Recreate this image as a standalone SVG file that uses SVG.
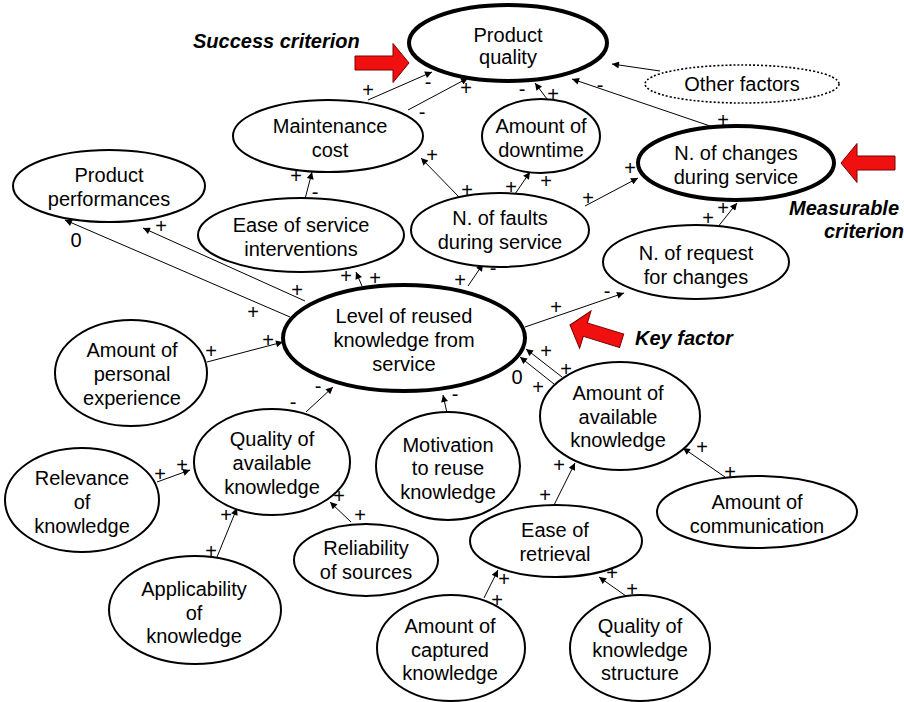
<svg xmlns="http://www.w3.org/2000/svg" width="904" height="702" viewBox="0 0 904 702">
<defs>
<style>
.n ellipse{fill:#fff;stroke:#000;stroke-width:2}
.n.k ellipse{stroke-width:4}
.n.d ellipse{stroke-width:1.6;stroke-dasharray:2 2}
text{font-family:"Liberation Sans",Arial,sans-serif;font-size:20px;fill:#000}
.n text{text-anchor:middle}
.lbl text{text-anchor:middle}
.em{font-weight:bold;font-style:italic}
#links path{fill:none;stroke:#000;stroke-width:1;marker-end:url(#ah)}
.red{fill:#f01010;stroke:#7a0000;stroke-width:1}
</style>
<marker id="ah" viewBox="0 0 10 10" refX="10" refY="5" markerWidth="9" markerHeight="7" markerUnits="userSpaceOnUse" orient="auto">
<path d="M0,0 L10,5 L0,10 z" fill="#000"/>
</marker>
<polygon id="bigArrow" points="-54,-7 -16,-7 -16,-19.5 0,0 -16,19.5 -16,7 -54,7"/>
</defs>
<rect width="904" height="702" fill="#fff"/>

<!-- connectors -->
<g id="links">
<path d="M368,100 L432,72"/>
<path d="M408,110 L468,78"/>
<path d="M547,99 L535,83"/>
<path d="M713,127 L572,79"/>
<path d="M660,71 L612,64"/>
<path d="M515,194 L530,172"/>
<path d="M585,206 L638,178"/>
<path d="M717,228 L737,203"/>
<path d="M305,199 L312,172"/>
<path d="M460,198 L421,158"/>
<path d="M362,286 L356,272"/>
<path d="M468,286 L483,264"/>
<path d="M305,301 L143,228"/>
<path d="M290,317 L65,220"/>
<path d="M207,362 L283,342"/>
<path d="M525,327 L624,293"/>
<path d="M562,377 L526,349"/>
<path d="M554,384 L520,357"/>
<path d="M306,412 L333,387"/>
<path d="M447,413 L443,395"/>
<path d="M725,477 L683,448"/>
<path d="M554,505 L575,463"/>
<path d="M157,482 L190,470"/>
<path d="M217,557 L237,508"/>
<path d="M351,522 L330,502"/>
<path d="M484,598 L498,570"/>
<path d="M626,596 L599,577"/>
</g>

<!-- polarity labels -->
<g class="lbl">
<text x="368" y="97">+</text><text x="428" y="89">-</text>
<text x="422" y="119">-</text><text x="466" y="95">+</text>
<text x="522" y="96">-</text><text x="553" y="101">+</text>
<text x="600" y="92">-</text><text x="723" y="127">+</text>
<text x="511" y="194">+</text><text x="546" y="188">+</text>
<text x="588" y="205">+</text><text x="630" y="175">+</text>
<text x="723" y="215">+</text><text x="708" y="225">+</text>
<text x="296" y="183">+</text><text x="315" y="199">-</text>
<text x="432" y="162">+</text><text x="467" y="197">+</text>
<text x="346" y="283">+</text><text x="375" y="285">+</text>
<text x="460" y="287">+</text><text x="493" y="275">-</text>
<text x="161" y="233">+</text><text x="297" y="297">+</text>
<text x="76" y="247">0</text><text x="253" y="319">+</text>
<text x="211" y="358">+</text><text x="268" y="347">+</text>
<text x="556" y="314">+</text><text x="607" y="298">-</text>
<text x="546" y="358">+</text><text x="566" y="376">+</text>
<text x="517" y="384">0</text><text x="538" y="394">+</text>
<text x="318" y="393">-</text><text x="293" y="409">-</text>
<text x="455" y="401">-</text><text x="460" y="419">-</text>
<text x="702" y="454">+</text><text x="730" y="479">+</text>
<text x="559" y="472">+</text><text x="545" y="502">+</text>
<text x="160" y="481">+</text><text x="182" y="472">+</text>
<text x="226" y="522">+</text><text x="211" y="558">+</text>
<text x="339" y="503">+</text><text x="360" y="522">+</text>
<text x="504" y="586">+</text><text x="497" y="607">+</text>
<text x="612" y="580">+</text><text x="632" y="596">+</text>
</g>

<!-- nodes -->
<g id="product-quality" class="n k"><ellipse cx="508" cy="43" rx="99" ry="38"/><text x="508" y="42">Product</text><text x="508" y="64">quality</text></g>
<g id="other-factors" class="n d"><ellipse cx="742" cy="84" rx="97" ry="19"/><text x="742" y="91">Other factors</text></g>
<g id="maintenance-cost" class="n"><ellipse cx="328" cy="136" rx="95" ry="36"/><text x="330" y="133">Maintenance</text><text x="330" y="157">cost</text></g>
<g id="downtime" class="n"><ellipse cx="541" cy="136" rx="59" ry="37"/><text x="541" y="133">Amount of</text><text x="541" y="157">downtime</text></g>
<g id="changes" class="n k"><ellipse cx="736" cy="163" rx="98" ry="37"/><text x="736" y="160">N. of changes</text><text x="736" y="184">during service</text></g>
<g id="performances" class="n"><ellipse cx="109" cy="186" rx="96" ry="36"/><text x="109" y="182">Product</text><text x="109" y="206">performances</text></g>
<g id="ease-service" class="n"><ellipse cx="301" cy="235" rx="103" ry="37"/><text x="301" y="232">Ease of service</text><text x="301" y="256">interventions</text></g>
<g id="faults" class="n"><ellipse cx="500" cy="230" rx="89" ry="37"/><text x="500" y="225">N. of faults</text><text x="500" y="249">during service</text></g>
<g id="requests" class="n"><ellipse cx="696" cy="262" rx="93" ry="37"/><text x="696" y="260">N. of request</text><text x="696" y="284">for changes</text></g>
<g id="reused-knowledge" class="n k"><ellipse cx="404" cy="338" rx="121" ry="53"/><text x="404" y="323">Level of reused</text><text x="404" y="347">knowledge from</text><text x="404" y="371">service</text></g>
<g id="personal-experience" class="n"><ellipse cx="131" cy="373" rx="76" ry="53"/><text x="132" y="357">Amount of</text><text x="132" y="381">personal</text><text x="132" y="405">experience</text></g>
<g id="quality-available" class="n"><ellipse cx="272" cy="462" rx="78" ry="53"/><text x="272" y="446">Quality of</text><text x="272" y="470">available</text><text x="272" y="494">knowledge</text></g>
<g id="relevance" class="n"><ellipse cx="82" cy="500" rx="77" ry="52"/><text x="82" y="485">Relevance</text><text x="82" y="509">of</text><text x="82" y="533">knowledge</text></g>
<g id="motivation" class="n"><ellipse cx="448" cy="466" rx="72" ry="54"/><text x="448" y="452">Motivation</text><text x="448" y="475">to reuse</text><text x="448" y="499">knowledge</text></g>
<g id="amount-available" class="n"><ellipse cx="620" cy="416" rx="80" ry="54"/><text x="618" y="400">Amount of</text><text x="618" y="424">available</text><text x="618" y="447">knowledge</text></g>
<g id="communication" class="n"><ellipse cx="757" cy="512" rx="100" ry="36"/><text x="757" y="509">Amount of</text><text x="757" y="533">communication</text></g>
<g id="reliability" class="n"><ellipse cx="366" cy="560" rx="72" ry="36"/><text x="366" y="555">Reliability</text><text x="366" y="579">of sources</text></g>
<g id="retrieval" class="n"><ellipse cx="556" cy="541" rx="86" ry="36"/><text x="555" y="537">Ease of</text><text x="555" y="561">retrieval</text></g>
<g id="applicability" class="n"><ellipse cx="195" cy="610" rx="86" ry="54"/><text x="194" y="596">Applicability</text><text x="194" y="620">of</text><text x="194" y="643">knowledge</text></g>
<g id="captured" class="n"><ellipse cx="451" cy="648" rx="74" ry="53"/><text x="450" y="633">Amount of</text><text x="450" y="657">captured</text><text x="450" y="680">knowledge</text></g>
<g id="structure" class="n"><ellipse cx="640" cy="648" rx="70" ry="53"/><text x="640" y="633">Quality of</text><text x="640" y="657">knowledge</text><text x="640" y="680">structure</text></g>

<!-- callouts -->
<g id="callouts">
<use href="#bigArrow" class="red" transform="translate(409,63)"/>
<use href="#bigArrow" class="red" transform="translate(841,163) rotate(180)"/>
<use href="#bigArrow" class="red" transform="translate(570,325) rotate(197)"/>
<text class="em" x="193" y="48">Success criterion</text>
<text class="em" x="789" y="215">Measurable</text>
<text class="em" x="824" y="238">criterion</text>
<text class="em" x="635" y="345">Key factor</text>
</g>
</svg>
